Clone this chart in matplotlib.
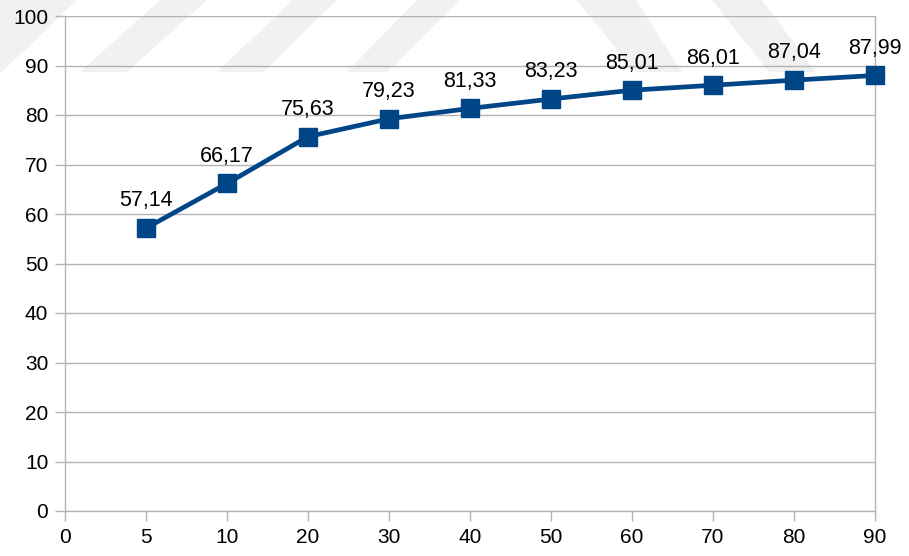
import matplotlib
matplotlib.use("Agg")
import matplotlib.pyplot as plt
from matplotlib.patches import Polygon

# Data
x_labels = ["0", "5", "10", "20", "30", "40", "50", "60", "70", "80", "90"]
point_labels = ["5", "10", "20", "30", "40", "50", "60", "70", "80", "90"]
values = [57.14, 66.17, 75.63, 79.23, 81.33, 83.23, 85.01, 86.01, 87.04, 87.99]

plt.rcParams["font.family"] = ["Liberation Sans", "DejaVu Sans"]

W, H = 909, 556
fig = plt.figure(figsize=(W / 100, H / 100), dpi=100)

# faint diagonal band pattern behind the chart (pixel coords, top-left origin)
bands = [
    [(0, 0), (77, 0), (2, 72), (0, 72)],
    [(160, 0), (207, 0), (127, 72), (80, 72)],
    [(293, 0), (337, 0), (263, 72), (217, 72)],
    [(417, 0), (460, 0), (387, 72), (347, 72)],
    [(576, 0), (636, 0), (682, 72), (636, 72)],
    [(712, 0), (762, 0), (816, 72), (769, 72)],
]
for b in bands:
    pts = [(x / W, 1 - y / H) for x, y in b]
    fig.patches.append(Polygon(pts, closed=True, transform=fig.transFigure,
                               facecolor="#f1f1f1", edgecolor="none", zorder=-10))

ax = fig.add_axes([65 / W, 1 - 511 / H, (875 - 65) / W, (511 - 16) / H])
ax.set_facecolor("none")
ax.set_zorder(5)

grid_c = "#b3b3b3"
line_c = "#004586"

xpos = [x_labels.index(p) for p in point_labels]
ax.plot(xpos, values, color=line_c, lw=3.4, marker="s", markersize=13,
        markerfacecolor=line_c, markeredgecolor=line_c, zorder=3, clip_on=False)

for xp, v in zip(xpos, values):
    ax.annotate(f"{v:.2f}".replace(".", ","), (xp, v), xytext=(0, 12),
                textcoords="offset points", ha="center", va="bottom",
                fontsize=15.5, color="black")

ax.set_xlim(0, len(x_labels) - 1)
ax.set_ylim(0, 100)
ax.set_xticks(range(len(x_labels)))
ax.set_xticklabels(x_labels)
ax.set_yticks(range(0, 101, 10))

ax.yaxis.grid(True, color=grid_c, lw=1)
ax.set_axisbelow(True)
for s in ax.spines.values():
    s.set_color(grid_c)
    s.set_linewidth(1)
ax.spines["top"].set_visible(False)

ax.tick_params(axis="both", colors=grid_c, labelcolor="black", labelsize=15,
               length=7, width=1, pad=5)

fig.savefig("out.png", dpi=100)
